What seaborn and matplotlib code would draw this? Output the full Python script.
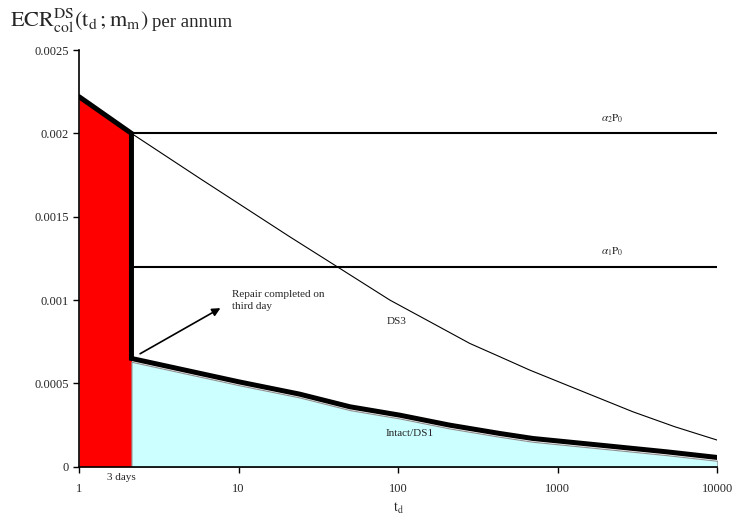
"""ECR per annum against t_d, repair on third day"""
import matplotlib
matplotlib.use("Agg")
import matplotlib.pyplot as plt
import seaborn as sns

# values
repair_t = [1, 2.13]
repair_ecr = [0.00222, 0.002]

intact_t = [2.13, 10, 24.1, 49.9, 102, 210, 433, 698, 1840, 4800, 10000]
intact_ecr = [0.00065, 0.00051, 0.000436, 0.00036, 0.00031, 0.00025,
              0.0002, 0.00017, 0.00013, 0.00009, 0.000056]

ds3_t = [2.13, 5.71, 20.9, 43.1, 88.7, 158, 281, 434, 668, 1140, 1837,
         2958, 5424, 10000]
ds3_ecr = [0.002, 0.00173, 0.00138, 0.00119, 0.001, 0.00087, 0.00074,
           0.00066, 0.00058, 0.00049, 0.00041, 0.00033, 0.00024, 0.00016]

levels = [0.002, 0.0012]
level_labels = [r"$\alpha_2\mathrm{P}_0$", r"$\alpha_1\mathrm{P}_0$"]

x_ticks = [1, 10, 100, 1000, 10000]
x_ticklabels = ["1", "10", "100", "1000", "10000"]
y_ticks = [0, 0.0005, 0.001, 0.0015, 0.002, 0.0025]
y_ticklabels = ["0", "0.0005", "0.001", "0.0015", "0.002", "0.0025"]

sns.set_style("ticks")
plt.rcParams["font.family"] = ["Liberation Serif", "DejaVu Serif"]
plt.rcParams["mathtext.fontset"] = "stix"

fig = plt.figure(figsize=(7.32, 5.21), dpi=100)
ax = fig.add_axes([0.108, 0.104, 0.872, 0.800])
ax.set_xscale("log")

# filled regions
ax.fill_between(repair_t, 0, repair_ecr, color="#ff0000", lw=0)
ax.fill_between(intact_t, 0, [v - 0.00002 for v in intact_ecr],
                color="#ccffff", edgecolor="#909090", lw=0.8)

# reference levels
for lev, lab in zip(levels, level_labels):
    sns.lineplot(x=[repair_t[-1], intact_t[-1]], y=[lev, lev], ax=ax,
                 color="black", lw=1.5, estimator=None, sort=False)
    ax.text(2190, lev + 0.00005, lab, fontsize=8, ha="center", va="bottom")

# DS3 curve
sns.lineplot(x=ds3_t, y=ds3_ecr, ax=ax, color="black", lw=0.8,
             estimator=None, sort=False)

# thick ECR path: damaged until repair, then intact
path_t = repair_t + intact_t
path_ecr = repair_ecr + intact_ecr
sns.lineplot(x=path_t, y=path_ecr, ax=ax, color="black", lw=3.6,
             estimator=None, sort=False, solid_joinstyle="miter")

ax.annotate("", xy=(7.96, 0.00096), xytext=(2.33, 0.00067),
            arrowprops=dict(arrowstyle="-|>", color="black", lw=1.2,
                            mutation_scale=12))
ax.text(9.1, 0.00106, "Repair completed on\nthird day", fontsize=8,
        ha="left", va="top", linespacing=1.4)
ax.text(98, 0.00087, "DS3", fontsize=8, ha="center", va="center")
ax.text(118, 0.0002, "Intact/DS1", fontsize=8, ha="center", va="center")
ax.annotate("3 days", xy=(1.84, 0), xytext=(0, -8), textcoords="offset points",
            ha="center", va="center", fontsize=8)

ax.set_xlim(1, 10000)
ax.set_ylim(0, 0.0025)
ax.set_xticks(x_ticks)
ax.set_xticklabels(x_ticklabels)
ax.minorticks_off()
ax.set_yticks(y_ticks)
ax.set_yticklabels(y_ticklabels)
ax.tick_params(axis="both", labelsize=9, length=4, width=1, color="black")
ax.tick_params(axis="x", pad=8)
for side in ["top", "right"]:
    ax.spines[side].set_visible(False)
for side in ["left", "bottom"]:
    ax.spines[side].set_linewidth(1.2)
    ax.spines[side].set_color("black")

ax.set_xlabel(r"$\mathrm{t_d}$", fontsize=10)
ax.xaxis.set_label_coords(0.5, -0.082)
ax.set_ylabel("")

fig.text(10 / 732, 1 - 27 / 521,
         r"$\mathrm{ECR}_{\mathrm{col}}^{\mathrm{DS}}(\mathrm{t_d}\,;\mathrm{m_m})$",
         fontsize=16, ha="left", va="baseline")
fig.text(152 / 732, 1 - 27 / 521, "per annum", fontsize=13.5,
         ha="left", va="baseline")

fig.savefig("out.png", dpi=100)
